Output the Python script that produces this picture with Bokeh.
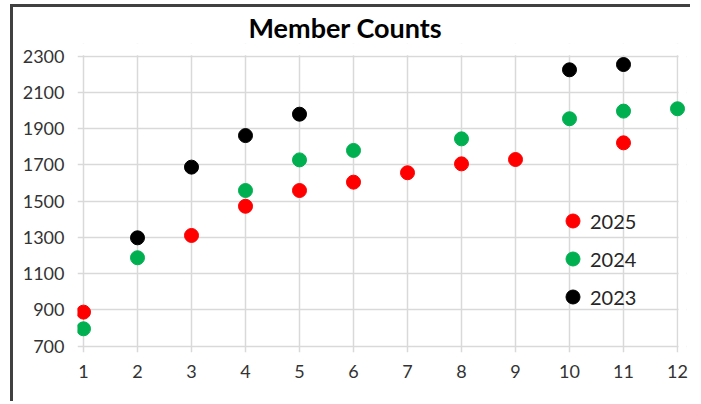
from bokeh.plotting import figure
from bokeh.models import Range1d, FixedTicker, Legend, LegendItem, BoxAnnotation
from bokeh.embed import file_html
from bokeh.resources import INLINE

# ---- data ----
months = list(range(1, 13))
y_ticks = [700, 900, 1100, 1300, 1500, 1700, 1900, 2100, 2300]

x_2025 = [1, 3, 4, 5, 6, 7, 8, 9, 11]
y_2025 = [888, 1311, 1472, 1559, 1605, 1657, 1706, 1730, 1822]

x_2024 = [1, 2, 4, 5, 6, 8, 10, 11, 12]
y_2024 = [796, 1188, 1559, 1728, 1780, 1844, 1955, 1997, 2010]

x_2023 = [2, 3, 4, 5, 10, 11]
y_2023 = [1298, 1688, 1862, 1980, 2225, 2254]

title_text = "Member Counts"
FONT = "Lato"

p = figure(width=680, height=397, output_backend="svg", toolbar_location=None,
           x_range=Range1d(1 - 6 / 54, 12 + 9 / 54),
           y_range=Range1d(700 - 6.3 / 0.18125, 2300 + 12.7 / 0.18125),
           min_border_left=64, min_border_right=7,
           min_border_top=36, min_border_bottom=52,
           styles={"border-left": "3px solid #404040",
                   "border-top": "3px solid #404040",
                   "margin-left": "10px", "margin-top": "4px"})
p.background_fill_color = "white"
p.border_fill_color = "white"
p.outline_line_color = None

# title
p.title.text = title_text
p.title.align = "left"
p.title.offset = 171
p.title.standoff = 0
p.title.text_font = FONT
p.title.text_font_style = "bold"
p.title.text_font_size = "27px"
p.title.text_color = "#000000"

# grid
for g in (p.xgrid, p.ygrid):
    g.grid_line_color = "#d9d9d9"
    g.grid_line_width = 1.5
p.xgrid.ticker = FixedTicker(ticks=months)
p.ygrid.ticker = FixedTicker(ticks=y_ticks)

# cover gridline extensions right of x=12 and above 2300
p.add_layout(BoxAnnotation(left=12.02, fill_color="white", fill_alpha=1,
                           line_color=None, level="underlay"))
p.add_layout(BoxAnnotation(bottom=2305, fill_color="white", fill_alpha=1,
                           line_color=None, level="underlay"))

# axes
for ax in (p.xaxis[0], p.yaxis[0]):
    ax.axis_line_color = None
    ax.major_tick_line_color = None
    ax.minor_tick_line_color = None
    ax.major_tick_out = 0
    ax.major_tick_in = 0
    ax.major_label_text_font = FONT
    ax.major_label_text_font_size = "18px"
    ax.major_label_text_color = "#333333"
p.xaxis.ticker = FixedTicker(ticks=months)
p.yaxis.ticker = FixedTicker(ticks=y_ticks)
p.xaxis.major_label_standoff = 12
p.yaxis.major_label_standoff = 13

# data
r25 = p.scatter(x_2025, y_2025, size=14, color="#ff0000")
r24 = p.scatter(x_2024, y_2024, size=14, color="#00b050")
r23 = p.scatter(x_2023, y_2023, size=14, color="#000000")

legend = Legend(items=[LegendItem(label="2025", renderers=[r25]),
                       LegendItem(label="2024", renderers=[r24]),
                       LegendItem(label="2023", renderers=[r23])],
                location=(478, 38), orientation="vertical",
                glyph_width=35, glyph_height=35, spacing=3, label_standoff=-8,
                padding=0, margin=0, border_line_color=None,
                background_fill_alpha=0,
                label_text_font=FONT, label_text_font_size="20px",
                label_text_color="#262626", label_height=20)
p.add_layout(legend)

open("out.html", "w").write(file_html(p, INLINE))
